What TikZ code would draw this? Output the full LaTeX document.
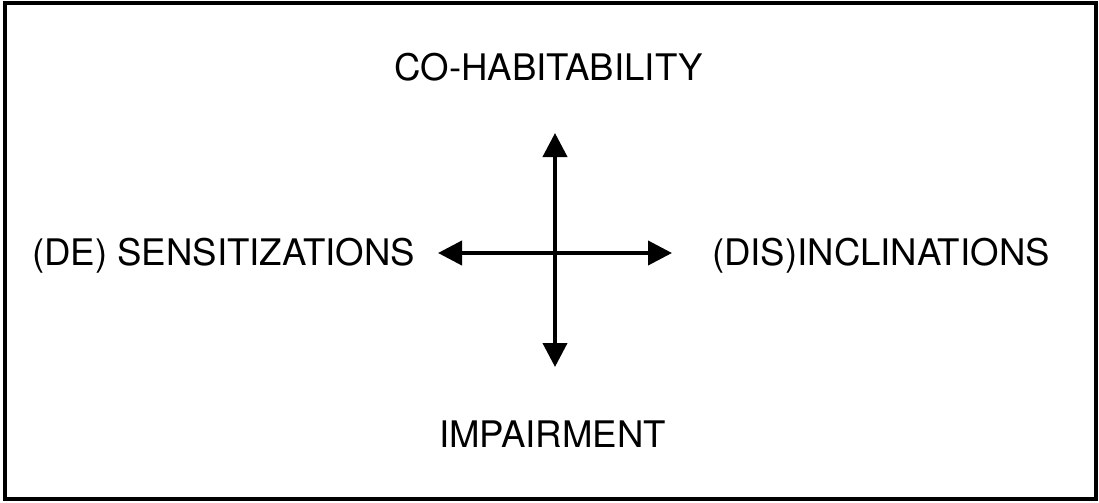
\documentclass[tikz,border=0pt]{standalone}
\usepackage{fontspec}
\setmainfont{TeX Gyre Heros}
\usepackage{tikz}
\usetikzlibrary{arrows.meta, calc}

\begin{document}
\begin{tikzpicture}[x=0.5pt, y=-0.5pt,
  axislabel/.style={font=\fontsize{18.3}{22}\selectfont, inner sep=0pt, anchor=base},
  axisarrow/.style={line width=2pt, {Triangle[length=12pt,width=12pt]}-{Triangle[length=12pt,width=12pt]}}]
\useasboundingbox (0,0) rectangle (1099,503);
\draw[line width=2pt] (5,3) rectangle (1096,499);
% ends of the two axes
\coordinate (top) at (555,133);
\coordinate (bottom) at (555,367);
\coordinate (left) at (438,253);
\coordinate (right) at (672,253);
\draw[axisarrow] (bottom)--(top);
\draw[axisarrow] (left)--(right);
\path
(548.5,80) node[axislabel] (cohab) {CO-HABITABILITY};
\path
(552.5,447) node[axislabel] (impair) {IMPAIRMENT};
\path
(223.5,265) node[axislabel] (desens) {(DE) SENSITIZATIONS};
\path
(881,265) node[axislabel] (disincl) {(DIS)INCLINATIONS};
\end{tikzpicture}
\end{document}
